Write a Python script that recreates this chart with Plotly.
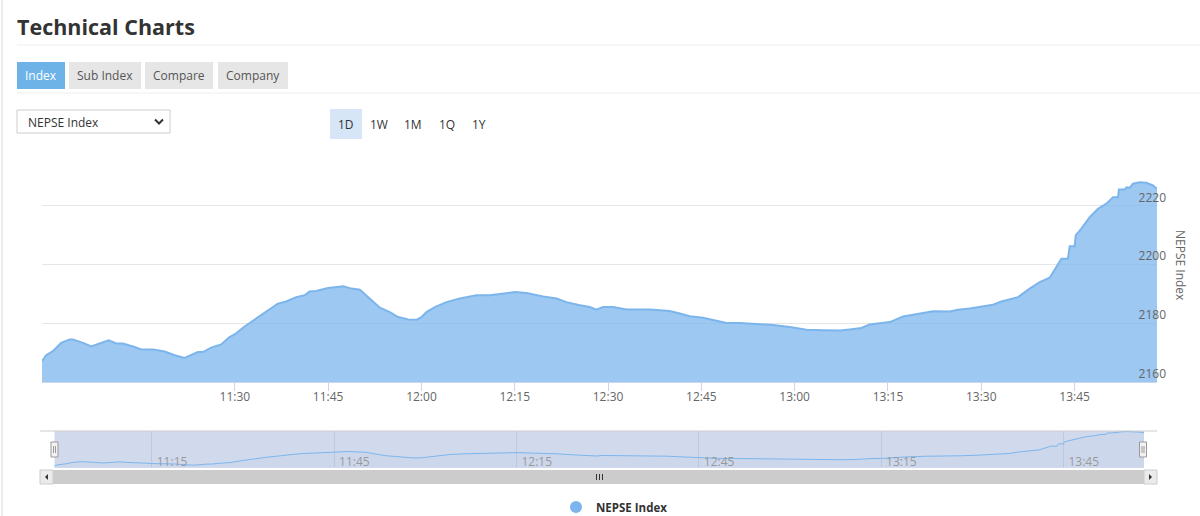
import plotly.graph_objects as go

DATE = "2021-06-01 "

times = ["10:59:00", "10:59:40", "11:00:45", "11:02:05", "11:03:26", "11:03:58", "11:05:35", "11:06:55",
         "11:08:16", "11:09:43", "11:10:56", "11:12:00", "11:13:53", "11:14:57", "11:16:50", "11:18:43",
         "11:20:19", "11:21:55", "11:24:04", "11:24:52", "11:26:12", "11:27:48", "11:29:09", "11:29:58",
         "11:31:34", "11:33:42", "11:35:19", "11:36:55", "11:38:15", "11:39:52", "11:41:13", "11:42:01",
         "11:43:04", "11:45:00", "11:47:25", "11:48:46", "11:50:06", "11:51:26", "11:53:19", "11:54:55",
         "11:56:15", "11:57:52", "11:59:13", "12:00:01", "12:00:49", "12:02:09", "12:04:02", "12:06:10",
         "12:08:51", "12:10:59", "12:13:08", "12:15:01", "12:16:53", "12:19:34", "12:21:43", "12:23:19",
         "12:25:28", "12:27:04", "12:28:08", "12:29:12", "12:30:49", "12:32:58", "12:36:43", "12:38:02",
         "12:39:55", "12:41:32", "12:43:08", "12:45:16", "12:47:09", "12:49:02", "12:51:10", "12:53:52",
         "12:56:32", "12:59:13", "13:01:54", "13:04:34", "13:07:15", "13:08:52", "13:10:44", "13:12:04",
         "13:13:41", "13:15:17", "13:17:26", "13:19:02", "13:22:15", "13:24:56", "13:26:16", "13:28:08",
         "13:30:17", "13:31:53", "13:33:14", "13:35:55", "13:37:47", "13:39:24", "13:41:00", "13:42:53",
         "13:43:56", "13:44:13", "13:45:01", "13:45:11", "13:46:06", "13:47:26", "13:48:46", "13:50:07",
         "13:51:11", "13:51:59", "13:52:08", "13:53:04", "13:53:20", "13:53:52", "13:54:23", "13:55:28",
         "13:56:32", "13:57:36", "13:58:15"]

values = [2167.1, 2169.1, 2170.5, 2173.3, 2174.5, 2174.5, 2173.3, 2172.1,
          2173.1, 2174.2, 2173.1, 2173.1, 2171.9, 2171.1, 2171.1, 2170.4,
          2169.1, 2168.2, 2170.2, 2170.2, 2171.7, 2172.8, 2175.3, 2176.2,
          2178.9, 2182.1, 2184.4, 2186.7, 2187.4, 2188.9, 2189.5, 2190.8,
          2191.0, 2192.0, 2192.6, 2191.8, 2191.4, 2188.9, 2185.3, 2183.8,
          2182.1, 2181.3, 2181.2, 2182.1, 2183.8, 2185.5, 2187.2, 2188.4,
          2189.5, 2189.5, 2190.1, 2190.6, 2190.3, 2189.1, 2188.4, 2187.2,
          2186.1, 2185.5, 2184.6, 2185.5, 2185.5, 2184.7, 2184.7, 2184.4,
          2184.2, 2183.3, 2182.4, 2181.9, 2181.0, 2180.1, 2180.1, 2179.7,
          2179.4, 2178.7, 2177.8, 2177.6, 2177.5, 2177.9, 2178.4, 2179.6,
          2180.1, 2180.4, 2182.3, 2182.9, 2184.1, 2184.0, 2184.6, 2185.0,
          2185.7, 2186.3, 2187.4, 2188.9, 2191.8, 2194.0, 2195.5, 2202.0,
          2202.0, 2206.2, 2206.2, 2209.9, 2212.2, 2216.1, 2219.0, 2220.7,
          2222.9, 2222.9, 2225.5, 2225.5, 2226.3, 2226.1, 2227.5, 2228.0,
          2227.8, 2226.9, 2225.8]

y_ticks = [2160, 2180, 2200, 2220, 2240]
y_ticktext = ["2160", "2180", "2200", "2220", ""]
x_ticks_main = ["11:30", "11:45", "12:00", "12:15", "12:30", "12:45", "13:00", "13:15", "13:30", "13:45"]
nav_ticks = ["11:15", "11:45", "12:15", "12:45", "13:15", "13:45"]
series_name = "NEPSE Index"
tabs = ["Index", "Sub Index", "Compare", "Company"]
ranges = ["1D", "1W", "1M", "1Q", "1Y"]

xs = [DATE + t for t in times]

# pixel -> paper helpers (layout geometry)
W, H = 1200, 516
L, R, T, B = 40, 1157, 147, 484
NAV_L, NAV_R = 54.5, 1144


def px(x):
    return (x - L) / (R - L)


def py(y):
    return (B - y) / (B - T)


FONT = "Open Sans"
BLUE = "#7cb5ec"

fig = go.Figure()

fig.add_trace(go.Scatter(
    x=xs, y=values, mode="lines", fill="tozeroy",
    line=dict(color=BLUE, width=2), fillcolor="rgba(124,181,236,0.75)",
    showlegend=False, hoverinfo="skip", xaxis="x", yaxis="y"))

fig.add_trace(go.Scatter(
    x=xs, y=values, mode="lines", fill="tozeroy",
    line=dict(color=BLUE, width=1), fillcolor="rgba(124,181,236,0.05)",
    showlegend=False, hoverinfo="skip", xaxis="x2", yaxis="y2"))

# legend entry
fig.add_trace(go.Scatter(
    x=[None], y=[None], mode="markers", name=series_name,
    marker=dict(symbol="circle", size=12, color=BLUE), xaxis="x", yaxis="y"))

shapes = []
annotations = []

# page decorations
shapes.append(dict(type="line", xref="paper", yref="paper", x0=px(2), x1=px(2), y0=py(0), y1=py(516),
                   line=dict(color="#ececec", width=2)))
annotations.append(dict(text="<b>Technical Charts</b>", xref="paper", yref="paper", x=px(15), y=py(27),
                        xanchor="left", yanchor="middle", showarrow=False,
                        font=dict(family=FONT, size=21.5, color="#333333")))
shapes.append(dict(type="line", xref="paper", yref="paper", x0=px(17), x1=px(1200), y0=py(45), y1=py(45),
                   line=dict(color="#eeeeee", width=1)))
shapes.append(dict(type="line", xref="paper", yref="paper", x0=px(17), x1=px(1200), y0=py(93), y1=py(93),
                   line=dict(color="#eeeeee", width=1)))

tab_pos = [(17, 65), (69, 141), (145, 213), (218, 288)]
for i, (name, (a, b)) in enumerate(zip(tabs, tab_pos)):
    active = i == 0
    shapes.append(dict(type="rect", xref="paper", yref="paper", x0=px(a), x1=px(b), y0=py(89), y1=py(62),
                       fillcolor="#6db3e8" if active else "#e6e6e6", line=dict(width=0)))
    annotations.append(dict(text=name, xref="paper", yref="paper", x=px((a + b) / 2), y=py(75.5),
                            xanchor="center", yanchor="middle", showarrow=False,
                            font=dict(family=FONT, size=12, color="#ffffff" if active else "#555555")))

# dropdown
shapes.append(dict(type="rect", xref="paper", yref="paper", x0=px(17), x1=px(170), y0=py(133), y1=py(110),
                   fillcolor="#ffffff", line=dict(color="#cccccc", width=1)))
annotations.append(dict(text=series_name, xref="paper", yref="paper", x=px(26), y=py(122),
                        xanchor="left", yanchor="middle", showarrow=False,
                        font=dict(family=FONT, size=12, color="#333333")))
shapes.append(dict(type="path", xref="paper", yref="paper",
                   path=f"M {px(155)},{py(119.5)} L {px(159)},{py(123.5)} L {px(163)},{py(119.5)}",
                   line=dict(color="#333333", width=2)))

# range selector
range_x = [346, 379, 413, 447, 479]
shapes.append(dict(type="rect", xref="paper", yref="paper", x0=px(330), x1=px(362), y0=py(139), y1=py(109),
                   fillcolor="#d6e6f7", line=dict(width=0)))
for name, cx in zip(ranges, range_x):
    annotations.append(dict(text=name, xref="paper", yref="paper", x=px(cx), y=py(124),
                            xanchor="center", yanchor="middle", showarrow=False,
                            font=dict(family=FONT, size=12, color="#333333")))

# y axis title
annotations.append(dict(text=series_name, xref="paper", yref="paper", x=px(1181), y=py(265),
                        xanchor="center", yanchor="middle", showarrow=False, textangle=90,
                        font=dict(family=FONT, size=12, color="#666666")))

# navigator
shapes.append(dict(type="rect", xref="paper", yref="paper", x0=px(NAV_L), x1=px(NAV_R), y0=py(468),
                   y1=py(431), fillcolor="rgba(102,133,194,0.3)", line=dict(width=0), layer="below"))
shapes.append(dict(type="line", xref="paper", yref="paper", x0=px(40), x1=px(1157), y0=py(431), y1=py(431),
                   line=dict(color="#cccccc", width=1)))
for cx in (NAV_L, NAV_R - 1):
    shapes.append(dict(type="rect", xref="paper", yref="paper", x0=px(cx - 3.5), x1=px(cx + 3.5),
                       y0=py(457), y1=py(442), fillcolor="#f2f2f2", line=dict(color="#999999", width=1)))
    for gx in (cx - 1, cx + 1):
        shapes.append(dict(type="line", xref="paper", yref="paper", x0=px(gx), x1=px(gx),
                           y0=py(453), y1=py(446), line=dict(color="#999999", width=1)))

# scrollbar
shapes.append(dict(type="rect", xref="paper", yref="paper", x0=px(40), x1=px(1157), y0=py(484), y1=py(470),
                   fillcolor="#f2f2f2", line=dict(width=0)))
shapes.append(dict(type="rect", xref="paper", yref="paper", x0=px(53), x1=px(1144), y0=py(484), y1=py(470),
                   fillcolor="#cccccc", line=dict(width=0)))
for a, b in ((40, 53), (1144, 1157)):
    shapes.append(dict(type="rect", xref="paper", yref="paper", x0=px(a), x1=px(b), y0=py(484), y1=py(470),
                       fillcolor="#ebebeb", line=dict(color="#cccccc", width=1)))
shapes.append(dict(type="path", xref="paper", yref="paper",
                   path=f"M {px(48)},{py(474)} L {px(45)},{py(477)} L {px(48)},{py(480)} Z",
                   fillcolor="#333333", line=dict(width=0)))
shapes.append(dict(type="path", xref="paper", yref="paper",
                   path=f"M {px(1149)},{py(474)} L {px(1152)},{py(477)} L {px(1149)},{py(480)} Z",
                   fillcolor="#333333", line=dict(width=0)))
for gx in (596.5, 599.5, 602.5):
    shapes.append(dict(type="line", xref="paper", yref="paper", x0=px(gx), x1=px(gx), y0=py(474), y1=py(480),
                       line=dict(color="#333333", width=1)))

fig.update_layout(
    width=W, height=H, autosize=False,
    margin=dict(l=L, r=W - R, t=T, b=H - B, pad=0, autoexpand=False),
    paper_bgcolor="#ffffff", plot_bgcolor="#ffffff",
    font=dict(family=FONT, color="#666666", size=12),
    hovermode=False,
    showlegend=True,
    legend=dict(orientation="h", xref="container", yref="container",
                x=556 / W, y=1 - 507 / H, xanchor="left", yanchor="middle",
                font=dict(family=FONT, size=11.5, color="#333333", weight="bold"),
                bgcolor="rgba(0,0,0,0)"),
    shapes=shapes, annotations=annotations,
    xaxis=dict(domain=[px(42), 1], range=[xs[0], xs[-1]], type="date", automargin=False,
               tickmode="array", tickvals=[DATE + t for t in x_ticks_main], ticktext=x_ticks_main,
               ticks="outside", ticklen=8, tickcolor="#ccd6eb", tickwidth=1, ticklabelstandoff=-4,
               showline=True, linecolor="#ccd6eb", linewidth=1, showgrid=False, zeroline=False,
               tickfont=dict(family=FONT, size=12, color="#666666"), anchor="y"),
    yaxis=dict(domain=[py(382), 1], range=[2160, 2240], side="right", anchor="x", automargin=False,
               tickmode="array", tickvals=y_ticks, ticktext=y_ticktext,
               ticklabelposition="inside top", ticklabelstandoff=-12,
               showgrid=True, gridcolor="#e6e6e6", gridwidth=1, zeroline=False, showline=False,
               tickfont=dict(family=FONT, size=12, color="#666666")),
    xaxis2=dict(domain=[px(NAV_L), px(NAV_R)], range=[xs[0], xs[-1]], type="date", anchor="y2",
                automargin=False,
                tickmode="array", tickvals=[DATE + t for t in nav_ticks], ticktext=nav_ticks,
                ticks="", ticklabelposition="inside right", ticklabelshift=5, ticklabelstandoff=-7,
                showgrid=True, gridcolor="#c0c9db",
                showline=False, zeroline=False,
                tickfont=dict(family=FONT, size=12, color="#999999")),
    yaxis2=dict(domain=[py(467), py(431)], range=[2165, 2229], anchor="x2", visible=False,
                automargin=False, showgrid=False, zeroline=False),
)

fig.write_html("out.html", config={"displayModeBar": False, "responsive": False},
               post_script="document.body.style.margin='0';")
